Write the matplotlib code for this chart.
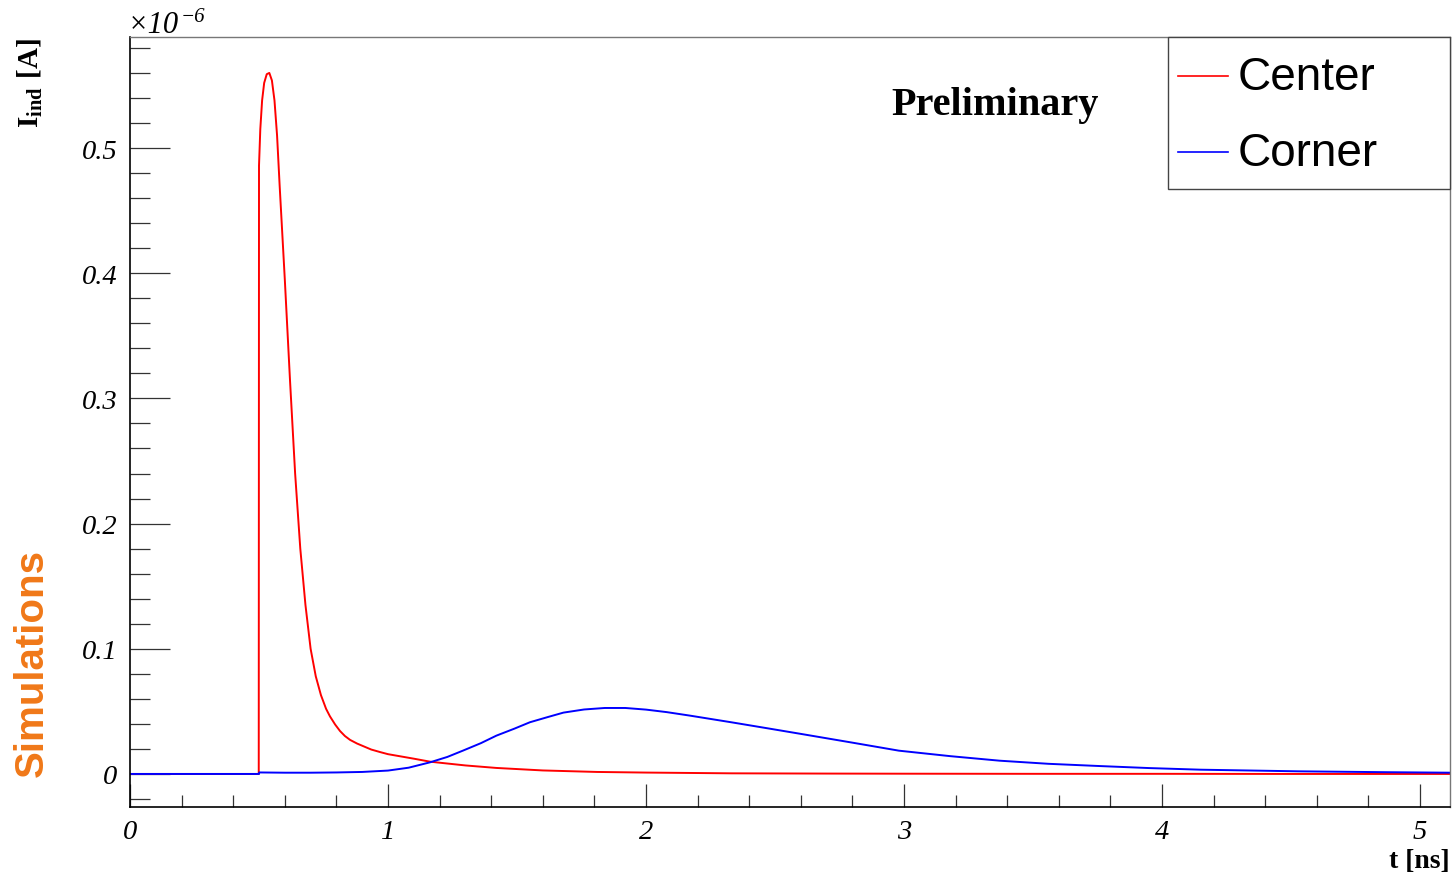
import matplotlib
matplotlib.use("Agg")
import matplotlib.pyplot as plt
from matplotlib.patches import Rectangle
from matplotlib.lines import Line2D
from matplotlib.ticker import MultipleLocator, FixedLocator

plt.rcParams['mathtext.fontset'] = 'custom'
plt.rcParams['mathtext.rm'] = 'Liberation Serif'
plt.rcParams['mathtext.it'] = 'Liberation Serif:italic'
plt.rcParams['mathtext.bf'] = 'Liberation Serif:bold'

# ---- data (current in units of 1e-6 A, time in ns) ----
center_t = [0.0, 0.499, 0.500, 0.505, 0.512, 0.520, 0.530, 0.540, 0.550, 0.560,
            0.570, 0.580, 0.600, 0.620, 0.640, 0.660, 0.680, 0.700, 0.720, 0.740,
            0.760, 0.775, 0.795, 0.814, 0.833, 0.853, 0.880, 0.904, 0.935, 0.969,
            1.000, 1.100, 1.163, 1.300, 1.420, 1.600, 1.810, 2.000, 2.330, 2.700,
            3.000, 3.500, 4.000, 4.500, 5.120]
center_i = [0.0, 0.0, 0.486, 0.515, 0.538, 0.552, 0.559, 0.560, 0.554, 0.538,
            0.510, 0.470, 0.395, 0.315, 0.240, 0.180, 0.135, 0.100, 0.078, 0.063,
            0.052, 0.0460, 0.0395, 0.0343, 0.0303, 0.0272, 0.0243, 0.0222, 0.0195, 0.0175,
            0.0158, 0.0122, 0.0098, 0.0068, 0.0048, 0.0028, 0.0016, 0.0011, 0.0005, 0.0003,
            0.0002, 0.0001, 0.0001, 0.0, 0.0]

corner_t = [0.0, 0.500, 0.501, 0.600, 0.700, 0.800, 0.900, 1.000, 1.080, 1.163,
            1.230, 1.290, 1.360, 1.420, 1.490, 1.550, 1.620, 1.680, 1.760, 1.840,
            1.920, 2.000, 2.080, 2.170, 2.330, 2.470, 2.600, 2.800, 2.980, 3.180,
            3.370, 3.560, 3.760, 3.950, 4.150, 4.530, 4.870, 5.120]
corner_i = [0.0, 0.0, 0.0012, 0.0010, 0.0010, 0.0012, 0.0016, 0.0027, 0.0050, 0.0093,
            0.0136, 0.0186, 0.0246, 0.0306, 0.0362, 0.0413, 0.0455, 0.0490, 0.0515, 0.0527,
            0.0527, 0.0514, 0.0494, 0.0466, 0.0413, 0.0365, 0.0320, 0.0250, 0.0186, 0.0142,
            0.0106, 0.0081, 0.0063, 0.0047, 0.0034, 0.0021, 0.0014, 0.0010]

series_labels = ["Center", "Corner"]
series_colors = ["#ff0000", "#0000ff"]
x_ticks = [0, 1, 2, 3, 4, 5]
y_ticks = [0.0, 0.1, 0.2, 0.3, 0.4, 0.5]
y_tick_labels = ["0", "0.1", "0.2", "0.3", "0.4", "0.5"]

W, H = 1455, 878
fig = plt.figure(figsize=(W / 100, H / 100), dpi=100)
L, R, T, B = 130, 1450, 38, 808
ax = fig.add_axes([L / W, 1 - B / H, (R - L) / W, (B - T) / H])

ax.plot(center_t, center_i, color=series_colors[0], lw=1.4)
ax.plot(corner_t, corner_i, color=series_colors[1], lw=1.4)

ax.set_xlim(0, 5.116)
ax.set_ylim(-0.0264, 0.5887)

serif = 'Liberation Serif'
ax.xaxis.set_major_locator(FixedLocator(x_ticks))
ax.xaxis.set_minor_locator(MultipleLocator(0.2))
ax.yaxis.set_major_locator(FixedLocator(y_ticks))
ax.yaxis.set_minor_locator(MultipleLocator(0.02))
ax.set_xticklabels([str(v) for v in x_ticks], fontfamily=serif, fontstyle='italic', fontsize=20.5)
ax.set_yticklabels(y_tick_labels, fontfamily=serif, fontstyle='italic', fontsize=20.5)

ax.tick_params(axis='x', which='major', direction='in', length=16.6, width=0.9, pad=9, color='#333333')
ax.tick_params(axis='x', which='minor', direction='in', length=8.6, width=0.9, color='#333333')
ax.tick_params(axis='y', which='major', direction='in', length=28.8, width=0.9, pad=9, color='#333333')
ax.tick_params(axis='y', which='minor', direction='in', length=14.4, width=0.9, color='#333333')
for side in ['left', 'bottom']:
    ax.spines[side].set_linewidth(1.2)
    ax.spines[side].set_color('black')
for side in ['top', 'right']:
    ax.spines[side].set_linewidth(1.0)
    ax.spines[side].set_color('#777777')

def fx(x):
    return x / W

def fy(y):
    return 1 - y / H

# exponent label
fig.text(fx(128), fy(33), "\u00d710", fontfamily=serif, fontstyle='italic', fontsize=22,
         ha='left', va='baseline')
fig.text(fx(181), fy(22), "\u22126", fontfamily=serif, fontstyle='italic', fontsize=15,
         ha='left', va='baseline')

# axis titles
fig.text(fx(30), fy(38), r"$\mathbf{I_{ind}}$ $\mathbf{[A]}$", fontsize=21, rotation=90,
         ha='center', va='top')
fig.text(fx(1450), fy(862), "t [ns]", fontfamily=serif, fontweight='bold', fontsize=20,
         ha='right', va='center')

# Preliminary
fig.text(fx(995), fy(105), "Preliminary", fontfamily=serif, fontweight='bold', fontsize=29,
         ha='center', va='center')

# Simulations
fig.text(fx(32), fy(663), "Simulations", fontfamily='Liberation Sans', fontweight='bold',
         fontsize=29, color='#f07818', rotation=90, ha='center', va='center')

# legend box
x0, y0, x1, y1 = 1168, 38, 1450, 190
fig.patches.append(Rectangle((fx(x0), fy(y1)), fx(x1) - fx(x0), fy(y0) - fy(y1),
                             transform=fig.transFigure, facecolor='white',
                             edgecolor='#444444', lw=1.0, zorder=5))
for lbl, col, yc in zip(series_labels, series_colors, [77, 153]):
    fig.lines.append(Line2D([fx(1178), fx(1228)], [fy(yc), fy(yc)], transform=fig.transFigure,
                            color=col, lw=1.2, zorder=6))
    fig.text(fx(1238), fy(yc + 1), lbl, fontfamily='Liberation Sans', fontsize=33,
             ha='left', va='center', zorder=7)

fig.savefig("out.png", dpi=100)
